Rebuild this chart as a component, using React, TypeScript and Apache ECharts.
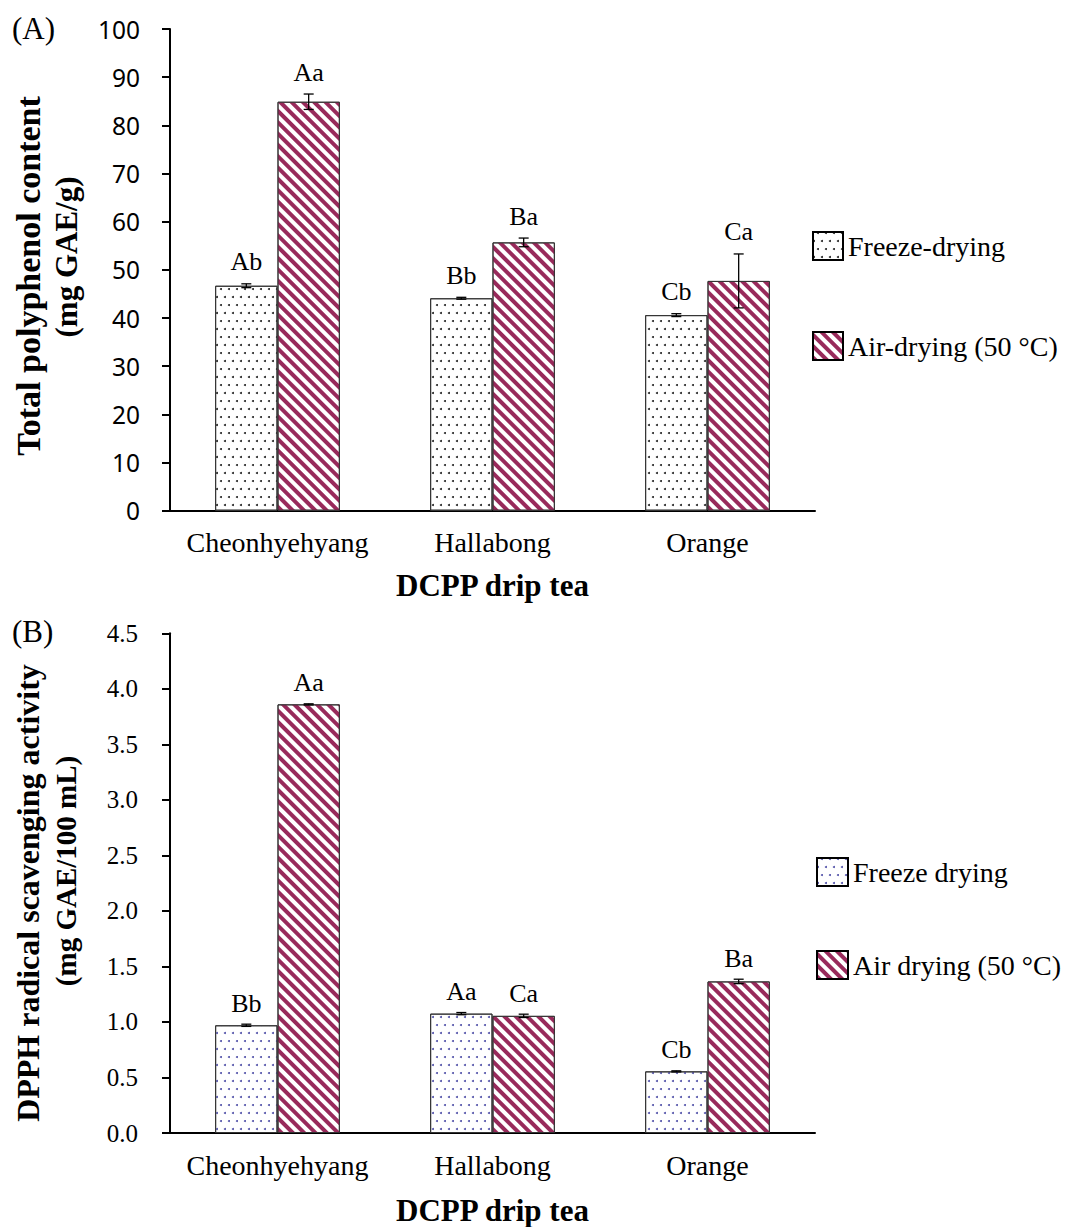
import React, { useEffect, useRef } from "react";
import * as echarts from "echarts";

const categories = ["Cheonhyehyang", "Hallabong", "Orange"];

// Panel A: Total polyphenol content (mg GAE/g)
const polyFreeze = [46.7, 44.1, 40.6];
const polyFreezeErr = [0.4, 0.2, 0.3];
const polyAir = [84.9, 55.7, 47.7];
const polyAirErr = [1.6, 0.9, 5.6];
const polyFreezeLetters = ["Ab", "Bb", "Cb"];
const polyAirLetters = ["Aa", "Ba", "Ca"];
const polyAxis = { min: 0, max: 100, interval: 10 };

// Panel B: DPPH radical scavenging activity (mg GAE/100 mL)
const dpphFreeze = [0.97, 1.075, 0.555];
const dpphFreezeErr = [0.01, 0.01, 0.005];
const dpphAir = [3.86, 1.055, 1.365];
const dpphAirErr = [0.005, 0.015, 0.02];
const dpphFreezeLetters = ["Bb", "Aa", "Cb"];
const dpphAirLetters = ["Aa", "Ca", "Ba"];
const dpphAxis = { min: 0, max: 4.5, interval: 0.5 };

const seriesNamesA = ["Freeze-drying", "Air-drying (50 \u00B0C)"];
const seriesNamesB = ["Freeze drying", "Air drying (50 \u00B0C)"];

const SERIF = '"Liberation Serif", "Times New Roman", serif';
const SANS = '"Noto Sans", "Liberation Sans", sans-serif';
const STRIPE = "#982a5b";

function dotDecal(color: string) {
  return {
    symbol: "circle",
    symbolSize: 1,
    dashArrayX: [[2, 6], [0, 4, 2, 2]],
    dashArrayY: [2, 6],
    rotation: 0,
    color,
  };
}

const stripeDecal = {
  symbol: "rect",
  symbolSize: 1,
  dashArrayX: [1, 0],
  dashArrayY: [4, 3.6],
  rotation: Math.PI / 4,
  color: STRIPE,
};

function errSeries(
  idx: number,
  vals: number[],
  errs: number[],
  letters: string[],
  offsetFrac: number,
  labelGap: number
) {
  return {
    type: "custom",
    xAxisIndex: idx,
    yAxisIndex: idx,
    z: 10,
    silent: true,
    clip: false,
    data: vals.map((v, i) => [i, v, errs[i]]),
    encode: { x: 0, y: 1 },
    renderItem: (params: any, api: any) => {
      const i = api.value(0);
      const v = api.value(1);
      const e = api.value(2);
      const band = api.size([1, 0])[0];
      const hi = api.coord([i, v + e]);
      const lo = api.coord([i, v - e]);
      const x = hi[0] + offsetFrac * band;
      const cap = 5;
      const ls = { stroke: "#000", lineWidth: 1.3 };
      return {
        type: "group",
        children: [
          { type: "line", shape: { x1: x, y1: hi[1], x2: x, y2: lo[1] }, style: ls },
          { type: "line", shape: { x1: x - cap, y1: hi[1], x2: x + cap, y2: hi[1] }, style: ls },
          { type: "line", shape: { x1: x - cap, y1: lo[1], x2: x + cap, y2: lo[1] }, style: ls },
          {
            type: "text",
            x: x,
            y: hi[1] - labelGap,
            style: {
              text: letters[params.dataIndex],
              align: "center",
              verticalAlign: "middle",
              font: `26px ${SERIF}`,
              fill: "#000",
            },
          },
        ],
      };
    },
  };
}

function barSeries(idx: number, name: string, vals: number[], decal: any) {
  return {
    type: "bar",
    name,
    xAxisIndex: idx,
    yAxisIndex: idx,
    data: vals,
    barGap: "0%",
    barCategoryGap: "42%",
    itemStyle: { color: "#ffffff", borderColor: "#333", borderWidth: 1, decal },
  };
}

export default function App() {
  const ref = useRef<HTMLDivElement>(null);
  useEffect(() => {
    if (!ref.current) return;
    const chart = echarts.init(ref.current, undefined, { renderer: "svg" });
    const xAxisCommon = (idx: number) => ({
      type: "category",
      gridIndex: idx,
      data: categories,
      axisLine: { lineStyle: { color: "#000", width: 2 } },
      axisTick: { length: 7, lineStyle: { color: "#000", width: 2 } },
      axisLabel: { interval: 0, margin: 18, fontFamily: SERIF, fontSize: 28, color: "#000" },
      name: "DCPP drip tea",
      nameLocation: "middle",
      nameGap: idx === 0 ? 59 : 62,
      nameTextStyle: { fontFamily: SERIF, fontSize: 31, fontWeight: "bold", color: "#000" },
    });
    const option: any = {
      animation: false,
      backgroundColor: "#fff",
      grid: [
        { left: 170, top: 29, width: 645, height: 481.7 },
        { left: 170, top: 633.3, width: 645, height: 500.7 },
      ],
      xAxis: [xAxisCommon(0), xAxisCommon(1)],
      yAxis: [
        {
          type: "value",
          gridIndex: 0,
          min: polyAxis.min,
          max: polyAxis.max,
          interval: polyAxis.interval,
          splitLine: { show: false },
          axisLine: { show: true, lineStyle: { color: "#000", width: 2 } },
          axisTick: { show: true, length: 8, lineStyle: { color: "#000", width: 2 } },
          axisLabel: { margin: 30, fontFamily: SANS, fontSize: 24.5, color: "#000" },
        },
        {
          type: "value",
          gridIndex: 1,
          min: dpphAxis.min,
          max: dpphAxis.max,
          interval: dpphAxis.interval,
          splitLine: { show: false },
          axisLine: { show: true, lineStyle: { color: "#000", width: 2 } },
          axisTick: { show: true, length: 8, lineStyle: { color: "#000", width: 2 } },
          axisLabel: {
            margin: 32,
            fontFamily: SERIF,
            fontSize: 25,
            color: "#000",
            formatter: (v: number) => v.toFixed(1),
          },
        },
      ],
      legend: [
        {
          data: seriesNamesA,
          orient: "vertical",
          left: 807,
          top: 226,
          itemWidth: 30,
          itemHeight: 28,
          itemGap: 70,
          icon: "rect",
          itemStyle: { borderColor: "#000", borderWidth: 2 },
          textStyle: { fontFamily: SERIF, fontSize: 28, color: "#000" },
        },
        {
          data: seriesNamesB,
          orient: "vertical",
          left: 811,
          top: 852,
          itemWidth: 31,
          itemHeight: 28,
          itemGap: 63,
          icon: "rect",
          itemStyle: { borderColor: "#000", borderWidth: 2 },
          textStyle: { fontFamily: SERIF, fontSize: 28, color: "#000" },
        },
      ],
      graphic: [
        { type: "text", x: 12, y: 28, style: { text: "(A)", font: `31px ${SERIF}`, fill: "#000", verticalAlign: "middle" } },
        { type: "text", x: 12, y: 631, style: { text: "(B)", font: `31px ${SERIF}`, fill: "#000", verticalAlign: "middle" } },
        {
          type: "text", x: 28, y: 276, rotation: Math.PI / 2,
          style: { text: "Total polyphenol content", font: `bold 34px ${SERIF}`, fill: "#000", align: "center", verticalAlign: "middle" },
        },
        {
          type: "text", x: 66, y: 257, rotation: Math.PI / 2,
          style: { text: "(mg GAE/g)", font: `bold 31px ${SERIF}`, fill: "#000", align: "center", verticalAlign: "middle" },
        },
        {
          type: "text", x: 28, y: 893, rotation: Math.PI / 2,
          style: { text: "DPPH radical scavenging activity", font: `bold 32px ${SERIF}`, fill: "#000", align: "center", verticalAlign: "middle" },
        },
        {
          type: "text", x: 66, y: 871, rotation: Math.PI / 2,
          style: { text: "(mg GAE/100 mL)", font: `bold 29px ${SERIF}`, fill: "#000", align: "center", verticalAlign: "middle" },
        },
      ],
      series: [
        barSeries(0, seriesNamesA[0], polyFreeze, dotDecal("#222")),
        barSeries(0, seriesNamesA[1], polyAir, stripeDecal),
        errSeries(0, polyFreeze, polyFreezeErr, polyFreezeLetters, -0.145, 22),
        errSeries(0, polyAir, polyAirErr, polyAirLetters, 0.145, 22),
        barSeries(1, seriesNamesB[0], dpphFreeze, dotDecal("#5050a8")),
        barSeries(1, seriesNamesB[1], dpphAir, stripeDecal),
        errSeries(1, dpphFreeze, dpphFreezeErr, dpphFreezeLetters, -0.145, 21),
        errSeries(1, dpphAir, dpphAirErr, dpphAirLetters, 0.145, 21),
      ],
    };
    chart.setOption(option);
    return () => chart.dispose();
  }, []);
  return (
    <div
      ref={ref}
      style={{ position: "absolute", left: 0, top: 0, width: 1069, height: 1227, background: "#fff" }}
    />
  );
}
